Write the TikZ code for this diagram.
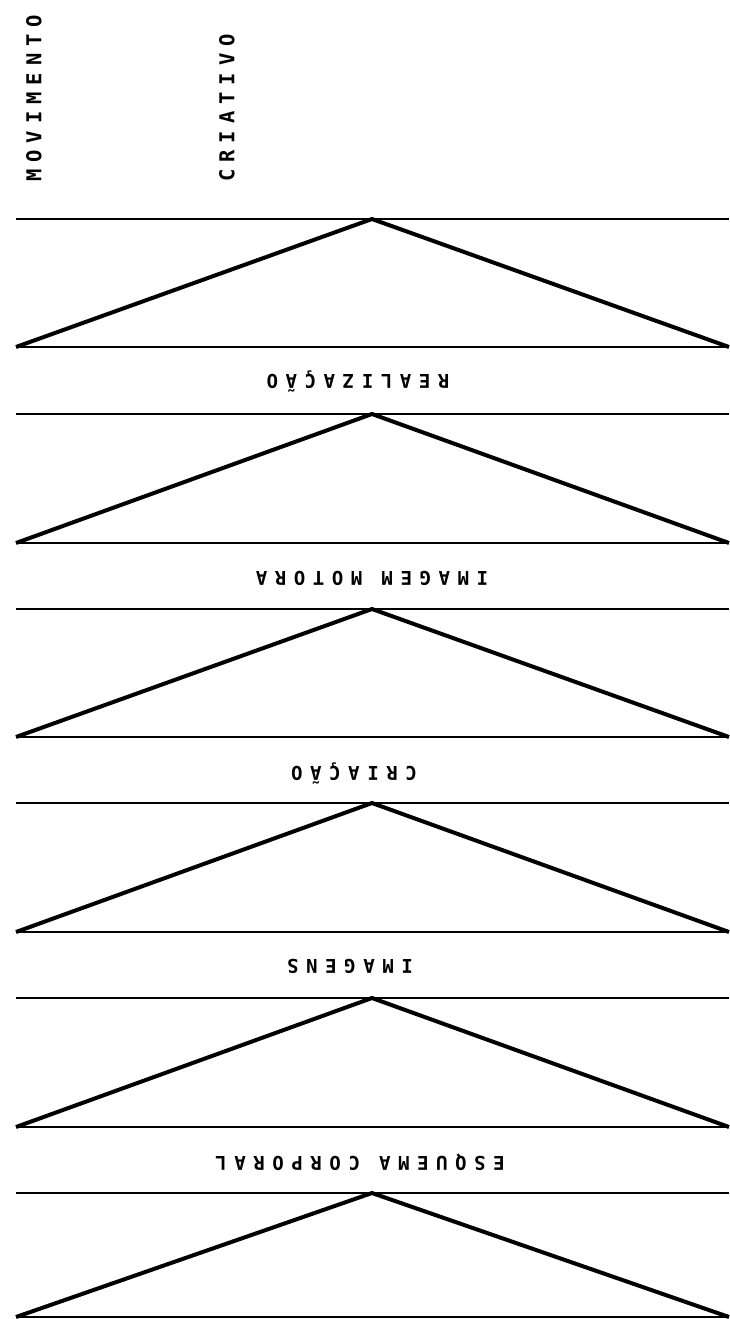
\documentclass[tikz,border=0pt]{standalone}
\usepackage{fontspec}
\newfontfamily\labfont[LetterSpace=40]{DejaVu Sans Mono}
\newfontfamily\vlabfont[LetterSpace=34]{DejaVu Sans Mono}
\begin{document}
\begin{tikzpicture}[x=1pt,y=-1pt,
  hline/.style={line width=2.2pt},
  tri/.style={line width=4pt, line join=miter},
  lab/.style={font=\labfont\bfseries\fontsize{19}{21}\selectfont, inner sep=0pt, rotate=180},
  vlab/.style={font=\vlabfont\bfseries\fontsize{20.5}{22}\selectfont, inner sep=0pt, rotate=90, anchor=west}]
\fill[white] (0,0) rectangle (729,1319);
\useasboundingbox (0,0) rectangle (729,1319);
\foreach \i/\t/\b in {1/219/347, 2/414/543, 3/609/737, 4/803/932, 5/998/1127, 6/1193/1317}{
  \coordinate (tl\i) at (16,\t);
  \coordinate (tr\i) at (729,\t);
  \coordinate (ap\i) at (372,\t);
  \coordinate (bl\i) at (16,\b);
  \coordinate (br\i) at (729,\b);
  \draw[hline] (tl\i) -- (tr\i);
  \draw[hline] (bl\i) -- (br\i);
  \draw[tri] (bl\i) -- (ap\i) -- (br\i);
}
\node[vlab] (mov) at (34,182) {MOVIMENTO};
\node[vlab] (cri) at (227,182) {CRIATIVO};
\node[lab] (l1) at (358,381) {REALIZAÇÃO};
\node[lab] (l2) at (372,578) {IMAGEM MOTORA};
\node[lab] (l3) at (354,773) {CRIAÇÃO};
\node[lab] (l4) at (350,966) {IMAGENS};
\node[lab] (l5) at (360,1162) {ESQUEMA CORPORAL};
\end{tikzpicture}
\end{document}
